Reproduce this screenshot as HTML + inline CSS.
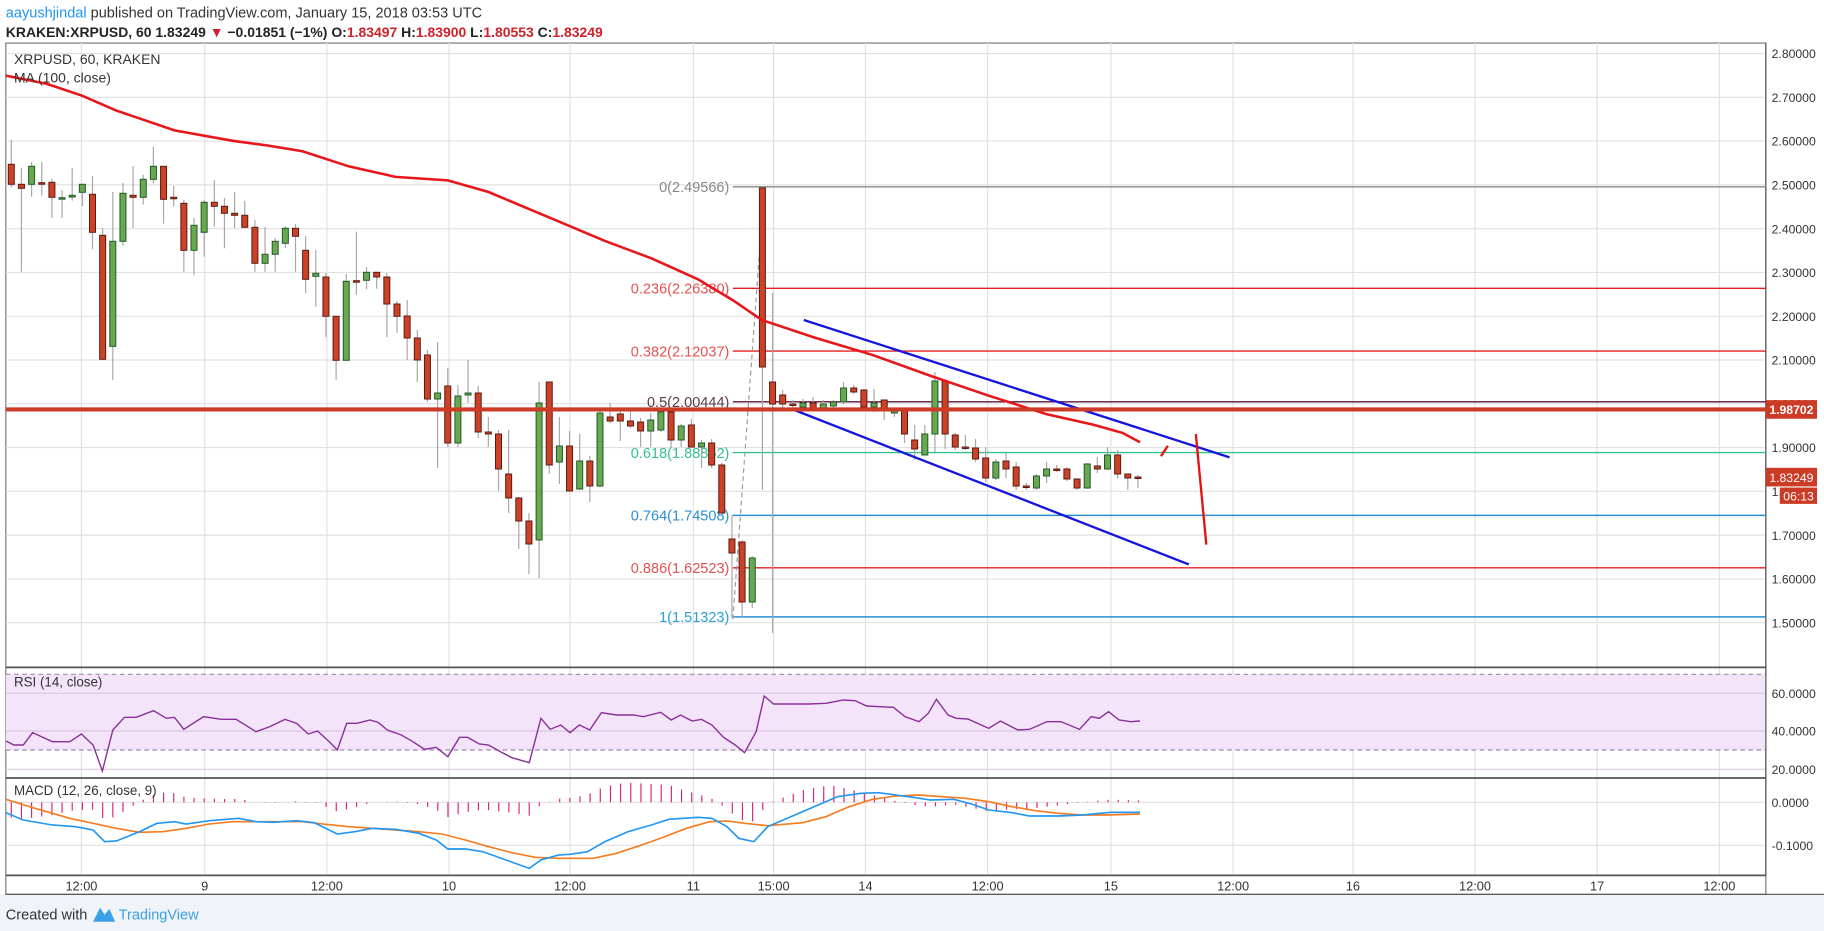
<!DOCTYPE html>
<html><head><meta charset="utf-8"><style>
html,body{margin:0;padding:0;background:#fff;width:1824px;height:931px;overflow:hidden}
svg{display:block}
text{font-family:"Liberation Sans",sans-serif}
</style></head><body>
<svg id="s" width="1824" height="931" viewBox="0 0 1824 931" xmlns="http://www.w3.org/2000/svg">
<rect x="0" y="0" width="1824" height="931" fill="#fff"/>
<rect x="0" y="894" width="1824" height="37" fill="#f0f3f7"/>
<g id="A" transform="scale(1.16327,1.16375)"></g>
<g id="C"></g>
<g id="B" transform="scale(1.16327,1.16375)"></g>
</svg>
<script>
const NS="http://www.w3.org/2000/svg";
function el(p,t,a,txt){const e=document.createElementNS(NS,t);for(const k in a)e.setAttribute(k,a[k]);if(txt!==undefined)e.textContent=txt;p.appendChild(e);return e;}
const A=document.getElementById('A'),B=document.getElementById('B'),C=document.getElementById('C');
const Z=zy=>(660+zy/3)/1.16375;
el(A,'rect',{x:5,y:37,width:1513,height:731.5,fill:'#fff',stroke:'#777','stroke-width':1});
const py=p=>46+(2.8-p)*376.2;
for(let p=1.5;p<=2.801;p+=0.1){const y=py(p);el(A,'line',{x1:5,x2:1518,y1:y,y2:y,stroke:'#e1e1e1'});
 el(A,'text',{x:1523,y:y+4,'font-size':10.5,fill:'#333'},p.toFixed(5));}
const tx=[[70,'12:00'],[176,'9'],[281,'12:00'],[386,'10'],[490,'12:00'],[596,'11'],[665,'15:00'],[744,'14'],[849,'12:00'],[955,'15'],[1060,'12:00'],[1163,'16'],[1268,'12:00'],[1373,'17'],[1478,'12:00']];
tx.forEach(([x,l])=>{el(A,'line',{x1:x,x2:x,y1:37,y2:752,stroke:'#e1e1e1'});el(A,'text',{x:x,y:765,'font-size':11,fill:'#333','text-anchor':'middle'},l);});
// RSI panel
el(A,'rect',{x:5,y:Z(43),width:1513,height:Z(270)-Z(43),fill:'#f3e4fa'});
[Z(43),Z(270)].forEach(y=>el(A,'line',{x1:5,x2:1518,y1:y,y2:y,stroke:'#a08aa8','stroke-dasharray':'4,3'}));
[[Z(100),'60.0000'],[Z(213),'40.0000'],[Z(328),'20.0000']].forEach(([y,l])=>{el(A,'line',{x1:5,x2:1518,y1:y,y2:y,stroke:'#d8c8e0'});el(A,'text',{x:1523,y:y+4,'font-size':10.5,fill:'#333'},l);});
[[Z(427),'0.0000'],[Z(556),'-0.1000']].forEach(([y,l])=>{el(A,'line',{x1:5,x2:1518,y1:y,y2:y,stroke:'#e1e1e1'});el(A,'text',{x:1523,y:y+4,'font-size':10.5,fill:'#333'},l);});
[Z(22),Z(354),Z(646)].forEach(y=>el(A,'line',{x1:5,x2:1518,y1:y,y2:y,stroke:'#555','stroke-width':1.5}));
el(A,'line',{x1:1518,x2:1518,y1:37,y2:752,stroke:'#555'});
el(A,'line',{x1:5,x2:1568,y1:768.5,y2:768.5,stroke:'#555'});
// fib lines
const fibs=[[2.49566,'0(2.49566)','#888','#888'],[2.26380,'0.236(2.26380)','#e52020','#e55050'],[2.12037,'0.382(2.12037)','#e52020','#e55050'],[2.00444,'0.5(2.00444)','#5a1a3a','#5a3a50'],[1.88852,'0.618(1.88852)','#35c08c','#35c08c'],[1.74508,'0.764(1.74508)','#2a90d0','#2a90d0'],[1.62523,'0.886(1.62523)','#e52020','#e55050'],[1.51323,'1(1.51323)','#2a90d0','#2aa0d8']];
fibs.forEach(([p,l,c,tc])=>{const y=py(p);el(A,'line',{x1:630,x2:1518,y1:y,y2:y,stroke:c,'stroke-width':1.2});el(A,'text',{x:627,y:y+4.5,'font-size':12.5,fill:tc,'text-anchor':'end'},l);});
el(A,'line',{x1:630,y1:532,x2:657,y2:160,stroke:'#999','stroke-dasharray':'4,3'});
// candles
const D=[[164.3,184.3,140,187.3],[184.3,188.3,168,271.7],[184.3,166.3,162,196.7],[182.7,182.7,162,195.7],[182.3,197.3,179,218],[199,197.7,190,218],[197,195.3,168,200.7],[192.3,184.3,184,206],[194.3,232.3,176,249.3],[235.3,359.3,228,359.3],[346.3,241.3,192,380],[241.3,193.3,183,245.7],[195.3,197.3,166,228],[197.3,179.3,175,204.7],[179.3,166.3,146.7,183.3],[166.3,199.3,166,223.7],[197.3,197.3,186,206.7],[203.3,250.3,200,271.7],[250.3,225.3,218,275.3],[232.3,202.3,200,256.7],[202.3,206.3,180,226.7],[206.3,213.3,198,248.3],[213.3,215.3,192,228.3],[215.3,227.3,200.7,228],[227.3,263.3,220,271.7],[263.3,254.3,227,271.7],[254.3,241.3,238,271.7],[243.3,228.3,226,248],[228.3,236.3,224,271.7],[250.3,279.3,236,293.3],[276.3,273.3,250,306.7],[277,316.3,273,337.3],[316.3,360.3,316,380],[360.3,281.3,274,360],[280.7,280.7,231.7,294.7],[280.3,272.3,267,289.3],[272.3,277,273,288.7],[277,304,273,337.3],[304,316.3,301,332.7],
[316,338,300,360],[338,360,330,382],[355,399,350,402],[399,393,342,468],[386,443,368,447],[443,396,385,447],[395,393,360,403],[393,432,386,438],[432,434,417,447],[434,469,430,491],[474,498,430,513],[498,521,497,549],[521,544,513,574],[540,403,382,578],[382,465,382,474],[462,446,417,484],[446,491,431,491],[489,461,434,490],[461,486,456,502],[486,413,410,487],[417,421,403,423],[414,421,409,441],[421,426,410,428],[422,431,418,447],[431,420,413,447],[430,412,409,432],[412,440,410,447],[440,426,424,447],[425,447,419,447],[447,443,440,468],[443,465,439,468],[465,513,463,513],
[539,553,515,618],[542,602,540,618],[602,558,556,608],[188,367,187,490],[382,404,293,633],[395,404,390,408],[404,405,400,408],[407,403,399,410],[403,408,397,410],[408,404,400,410],[406,402,400,408],[402,388,382,404],[388,392,385,394],[390,407,389,410],[407,403,389,412],[400,408,400,420],[413,411,408,417],[411,434,410,443],[440,449,425,460],[455,434,425,455],[434,381,372,452],[381,434,381,449],[435,447,433,450],[447,448,435,450],[448,459,439,462],[458,478,447,482],[478,462,459,480],[461,469,453,478],[467,486,462,490],[486,487,483,490],[488,476,474,490],[476,469,462,483],[469,470,465,472],[469,479,467,481],[479,488,478,490],[488,464,463,489],[466,469,457,473],[469,455,447,470],[455,474,450,479],[474,478,474,490],[477,478,475,488]];
D.forEach((d,i)=>{const x=11.3+i*10.15;const [o,c,h,l]=d;const up=c<o;
 el(C,'line',{x1:x,x2:x,y1:h,y2:l,stroke:'#a8a8a8','stroke-width':1.2});
 const t=Math.min(o,c),hh=Math.max(Math.abs(o-c),1.5);
 el(C,'rect',{x:x-3,y:t,width:6,height:hh,fill:up?'#6aa84f':'#cc4228',stroke:up?'#1f5a2c':'#5e1a10','stroke-width':1});});
// MA
const ma=[[5,65],[40,72],[70,82],[100,95],[150,112],[200,121],[230,125],[260,130],[300,143],[340,152],[385,155],[420,165],[470,186],[520,207],[560,222],[600,240],[630,258],[655,275],[700,290],[750,305],[800,323],[850,340],[900,356],[940,365],[965,372],[980,380]];
el(B,'polyline',{points:ma.map(p=>p.join(',')).join(' '),fill:'none',stroke:'#e8161a','stroke-width':2.2});
el(B,'line',{x1:691,y1:275,x2:1057,y2:393,stroke:'#1515e0','stroke-width':2});
el(B,'line',{x1:682,y1:352,x2:1022,y2:485,stroke:'#1515e0','stroke-width':2});
el(B,'polyline',{points:'998,392 1004,383',fill:'none',stroke:'#e81010','stroke-width':2});
el(B,'line',{x1:1028,y1:373,x2:1037,y2:468,stroke:'#e81010','stroke-width':2});
const sy=py(1.98702);
el(B,'line',{x1:5,x2:1518,y1:sy,y2:sy,stroke:'#cc3b26','stroke-width':3.5});
el(B,'rect',{x:1518,y:sy-8,width:44,height:16,fill:'#cc3b26'});
el(B,'text',{x:1521,y:sy+4,'font-size':10.5,fill:'#fff','font-weight':'bold'},'1.98702');
const cy=py(1.83249);
el(B,'rect',{x:1518,y:cy-8,width:44,height:16,fill:'#cc3b26'});
el(B,'text',{x:1521,y:cy+4,'font-size':10.5,fill:'#fff'},'1.83249');
el(B,'rect',{x:1530,y:cy+9,width:32,height:14,fill:'#cc3b26'});
el(B,'text',{x:1533,y:cy+20,'font-size':10.5,fill:'#fff'},'06:13');
// RSI
const rsi=[[5,243],[12,255],[20,255],[28,218],[45,245],[60,245],[70,222],[80,255],[88,333],[97,210],[107,172],[117,172],[132,152],[143,175],[150,172],[158,208],[175,170],[190,178],[203,178],[220,215],[232,200],[245,178],[255,190],[265,222],[273,213],[283,245],[290,270],[298,190],[307,190],[318,180],[325,187],[333,210],[345,225],[355,245],[365,268],[375,262],[385,290],[395,232],[402,232],[412,252],[420,255],[430,275],[440,293],[455,308],[465,175],[473,208],[482,195],[490,218],[498,195],[507,210],[517,158],[530,165],[545,165],[553,170],[568,157],[577,180],[585,165],[595,183],[603,178],[612,195],[622,232],[632,255],[640,278],[650,215],[657,108],[665,132],[695,132],[710,130],[725,120],[735,122],[745,138],[768,142],[778,170],[790,185],[798,160],[805,118],[815,165],[822,175],[832,177],[850,205],[860,183],[875,210],[885,208],[900,185],[912,185],[928,208],[938,170],[945,175],[953,155],[962,180],[972,185],[980,183]];
el(B,'polyline',{points:rsi.map(p=>p[0]+','+Z(p[1])).join(' '),fill:'none',stroke:'#8b2f9a','stroke-width':1.2});
// MACD
const mbz=[[5,458],[20,480],[45,495],[65,500],[80,510],[90,545],[100,543],[120,515],[135,490],[150,485],[160,492],[180,482],[205,475],[220,485],[235,487],[255,482],[270,488],[290,522],[305,515],[320,505],[340,508],[360,520],[375,540],[385,567],[400,567],[415,575],[435,600],[455,625],[465,600],[480,585],[490,583],[505,575],[520,545],[540,515],[560,495],[575,478],[600,472],[612,475],[625,500],[635,535],[648,545],[660,500],[680,470],[700,440],[720,410],[740,400],[755,398],[770,405],[785,412],[800,420],[820,418],[835,432],[850,450],[870,458],[885,468],[910,468],[930,465],[955,457],[980,457]];
const moz=[[5,418],[30,445],[60,475],[80,490],[100,505],[120,517],[140,515],[160,505],[180,492],[200,485],[220,485],[240,485],[260,485],[280,493],[300,500],[320,505],[340,510],[360,515],[380,522],[400,540],[420,560],[440,578],[460,592],[480,595],[510,595],[530,580],[550,557],[570,532],[590,505],[610,485],[625,483],[640,490],[660,497],[690,488],[710,470],[730,440],[750,418],[770,408],[790,405],[810,410],[830,415],[850,425],[870,440],[890,452],[910,460],[930,465],[950,465],[980,462]];
const mb=mbz.map(p=>[p[0],Z(p[1])]),mo=moz.map(p=>[p[0],Z(p[1])]);
function interp(a,x){for(let i=1;i<a.length;i++){if(x<=a[i][0]){const [x0,y0]=a[i-1],[x1,y1]=a[i];return y0+(y1-y0)*(x-x0)/(x1-x0);}}return a[a.length-1][1];}
const z0=Z(427);
for(let x=9.7;x<=982;x+=8.73){const d=(interp(mo,x)-interp(mb,x))*1.1;el(B,'line',{x1:x,x2:x,y1:z0,y2:z0-d,stroke:'#e0207a','stroke-width':1});}
el(B,'polyline',{points:mo.map(p=>p.join(',')).join(' '),fill:'none',stroke:'#f57c20','stroke-width':1.4});
el(B,'polyline',{points:mb.map(p=>p.join(',')).join(' '),fill:'none',stroke:'#2196f3','stroke-width':1.4});
el(B,'text',{x:12,y:55,'font-size':12,fill:'#333'},'XRPUSD, 60, KRAKEN');
el(B,'text',{x:12,y:71,'font-size':12,fill:'#333'},'MA (100, close)');
el(B,'text',{x:12,y:590,'font-size':11.5,fill:'#333'},'RSI (14, close)');
el(B,'text',{x:12,y:683,'font-size':11.5,fill:'#333'},'MACD (12, 26, close, 9)');
const h1=el(B,'text',{x:5,y:15,'font-size':12.5,fill:'#333'});
el(h1,'tspan',{fill:'#2196f3'},'aayushjindal');el(h1,'tspan',{},' published on TradingView.com, January 15, 2018 03:53 UTC');
const h2=el(B,'text',{x:5,y:32,'font-size':12,fill:'#222','font-weight':'bold'});
el(h2,'tspan',{},'KRAKEN:XRPUSD, 60 1.83249 ');el(h2,'tspan',{fill:'#d0202a'},'▼');el(h2,'tspan',{},' −0.01851 (−1%) O:');
el(h2,'tspan',{fill:'#d0202a'},'1.83497');el(h2,'tspan',{},' H:');el(h2,'tspan',{fill:'#d0202a'},'1.83900');el(h2,'tspan',{},' L:');el(h2,'tspan',{fill:'#d0202a'},'1.80553');el(h2,'tspan',{},' C:');el(h2,'tspan',{fill:'#d0202a'},'1.83249');
el(B,'text',{x:5,y:790,'font-size':12.5,fill:'#333'},'Created with');
el(B,'path',{d:'M80,792 L86,780 L90,786 L94,781 L99,792 Z',fill:'#3aa0e8'});
el(B,'text',{x:102,y:790,'font-size':12.5,fill:'#3aa0e8'},'TradingView');
</script>
</body></html>
